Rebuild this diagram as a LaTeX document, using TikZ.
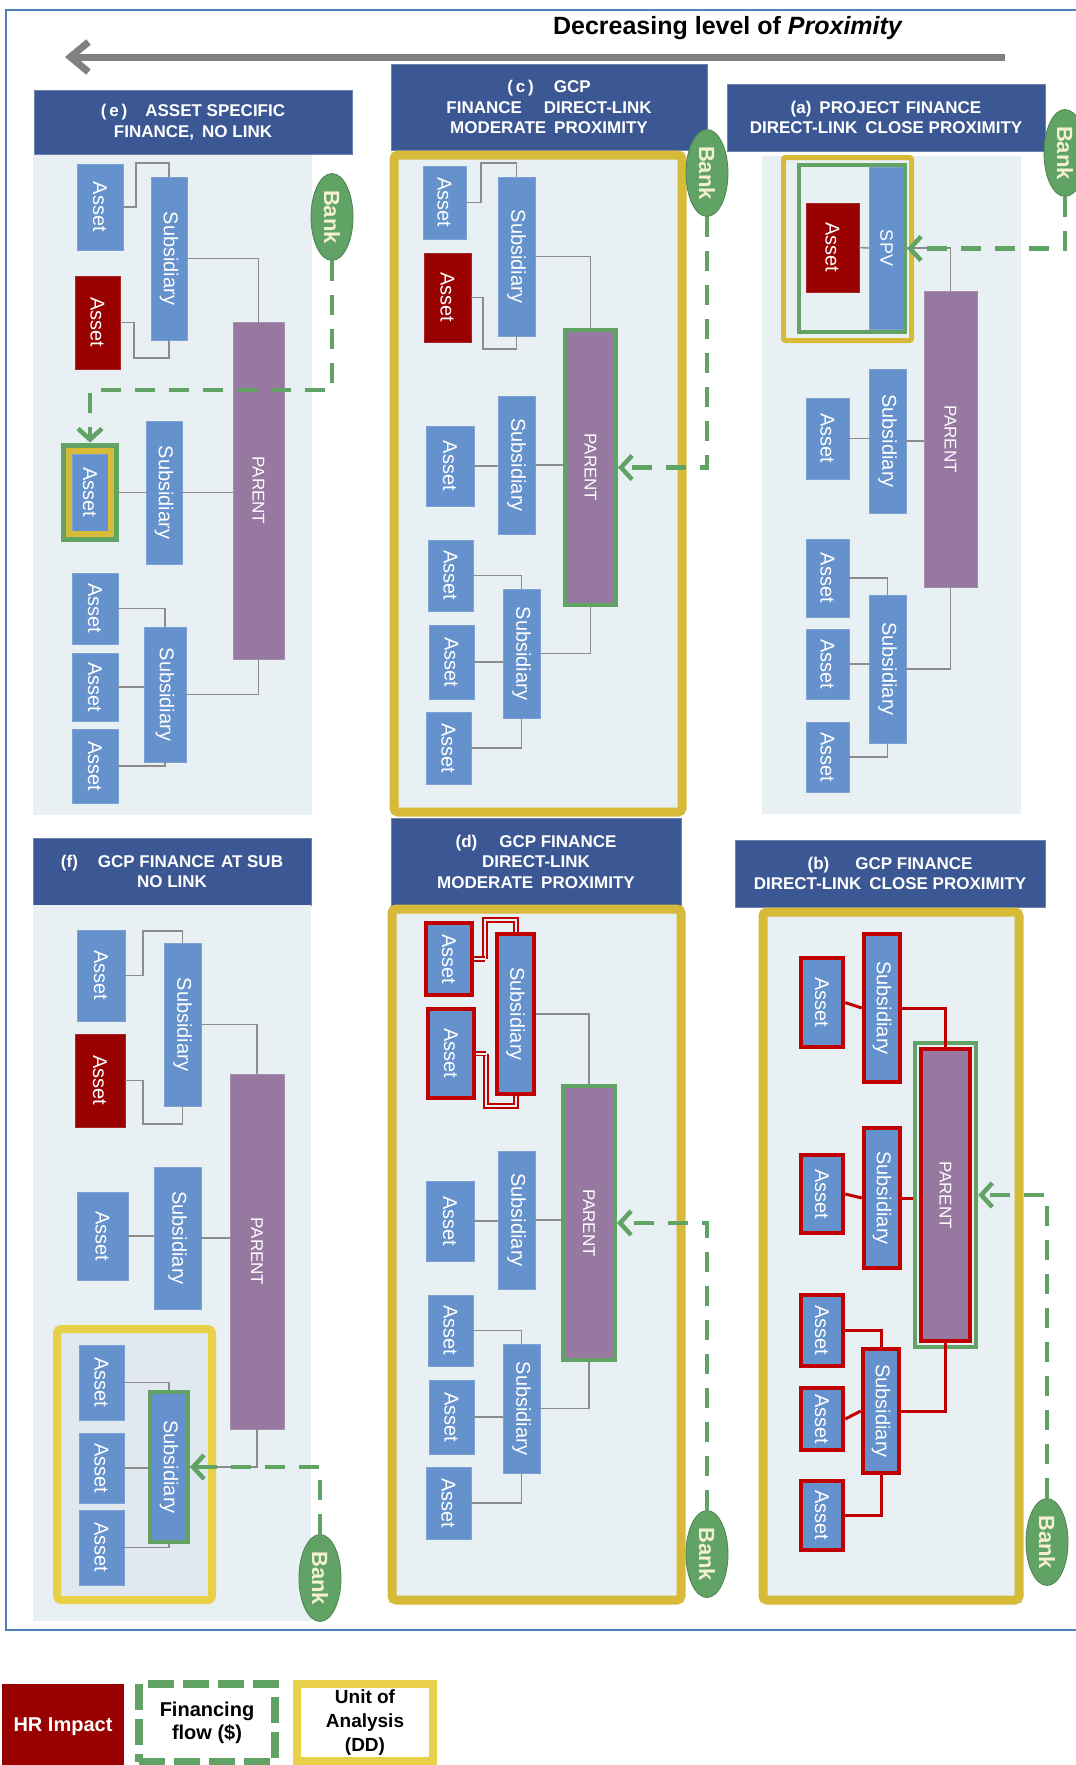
\documentclass[tikz,border=0pt]{standalone}
\usepackage{fontspec}
\setmainfont{Liberation Sans}
\usepackage{graphicx}
\usetikzlibrary{positioning,shapes.geometric,arrows.meta,fit}

\definecolor{hdrblue}{RGB}{60,88,148}
\definecolor{bglight}{RGB}{233,240,244}
\definecolor{innerbg}{RGB}{226,232,240}
\definecolor{entblue}{RGB}{101,145,204}
\definecolor{hrred}{RGB}{153,0,0}
\definecolor{hrline}{RGB}{192,0,0}
\definecolor{parpurple}{RGB}{150,120,160}
\definecolor{gcpgreen}{RGB}{96,163,100}
\definecolor{unityellow}{RGB}{214,186,56}
\definecolor{unitbright}{RGB}{232,208,72}
\definecolor{linkgray}{RGB}{140,140,140}
\definecolor{framblue}{RGB}{79,129,189}
\definecolor{arrgray}{RGB}{128,128,128}
\definecolor{banktext}{RGB}{245,240,210}

\newcommand{\vt}[1]{\rotatebox{-90}{#1}}
\newcommand{\entfont}{\fontsize{20}{24}\selectfont}
\newcommand{\spvfont}{\fontsize{18}{21}\selectfont}
\newcommand{\hdrfont}{\fontsize{17}{20.5}\selectfont\bfseries}
\newcommand{\bankfont}{\fontsize{22}{26}\selectfont\bfseries}
\newcommand{\parfont}{\fontsize{17}{20}\selectfont}
\newcommand{\legfont}{\fontsize{20}{23}\selectfont\bfseries}
\newcommand{\legfontb}{\fontsize{19}{24}\selectfont\bfseries}
\newcommand{\titlefont}{\fontsize{25}{29}\selectfont\bfseries}

\tikzset{
  sz/.style 2 args={minimum width=#1pt, minimum height=#2pt},
  header/.style={fill=hdrblue, draw=hdrblue!75!white, line width=1pt, text=white, font=\hdrfont, align=center, inner sep=0pt},
  panelbg/.style={fill=bglight},
  ent/.style={rectangle, fill=entblue, draw=entblue!85!white, line width=0.8pt, text=white, font=\entfont, inner sep=0pt},
  hrasset/.style={ent, fill=hrred, draw=hrred!85!white},
  parent/.style={ent, fill=parpurple, draw=parpurple!85!white, font=\parfont},
  hrbox/.style={draw=hrline, line width=4.5pt},
  gcpbox/.style={draw=gcpgreen, line width=4pt},
  bank/.style={ellipse, fill=gcpgreen, draw=gcpgreen!80!black, line width=0.8pt, text=banktext, font=\bankfont, inner sep=0pt, minimum width=42pt, minimum height=87pt},
  link/.style={draw=linkgray, line width=1.6pt},
  hrlink/.style={draw=hrline, line width=3pt},
  hrpipe/.style={draw=hrline, line width=1.8pt, double=bglight, double distance=2pt},
  flow/.style={draw=gcpgreen, line width=4.5pt, dash pattern=on 20pt off 14pt, -{Straight Barb[length=11pt,width=24pt]}},
  unitdd/.style={draw=unityellow, line width=9pt, rounded corners=4pt},
}

\begin{document}
\begin{tikzpicture}[x=1pt, y=-1pt]
\clip (0,0) rectangle (1076,1765);
\fill[white] (0,0) rectangle (1076,1765);

% frame and title
\draw[framblue, line width=1.5pt] (6,10) rectangle (1110,1630);
\node[font=\titlefont] (title) at (728,28) {Decreasing level of \textit{Proximity}};
\coordinate (arrR) at (1005,57);
\coordinate (arrL) at (65,57);
\draw[arrgray, line width=7pt, -{Straight Barb[length=18pt,width=30pt]}] (arrR) -- (arrL);

% Panel (e)
\node[header, sz={318}{64}] (eH) at (193,122) {(\,e\,)\hspace{18pt}ASSET SPECIFIC\\FINANCE,\hspace{8pt}NO LINK};
\fill[panelbg] (33,155) rectangle (312,815);
\node[ent, sz={46}{86}] (eA1) at (100,207) {\vt{Asset}};
\node[ent, sz={36}{163}] (eS1) at (169,258.5) {\vt{Subsidiary}};
\node[hrasset, sz={45}{93}] (eA2) at (97.5,322.5) {\vt{Asset}};
\node[parent, sz={51}{337}] (eP) at (258.5,490.5) {\vt{PARENT}};
\node[ent, sz={36}{77}] (eA3) at (90,492.5) {\vt{Asset}};
\node[ent, sz={36}{143}] (eS2) at (164,492.5) {\vt{Subsidiary}};
\node[ent, sz={46}{71}] (eA4) at (95,608.5) {\vt{Asset}};
\node[ent, sz={46}{68}] (eA5) at (95,687) {\vt{Asset}};
\node[ent, sz={46}{74}] (eA6) at (95,766) {\vt{Asset}};
\node[ent, sz={42}{135}] (eS3) at (165,694.5) {\vt{Subsidiary}};
\node[bank] (eB) at (332,217) {\vt{Bank}};
\draw[link] (eA1.east) -| (136,163) -| (eS1.north);
\draw[link] (eA2.east) -| (134,358) -| (eS1.south);
\draw[link] (eS1.east) -| (eP.north);
\draw[link] (eA3.east) -- (eA3.east -| eS2.west);
\draw[link] (eS2.east) -- (eS2.east -| eP.west);
\draw[link] (eA4.east) -| (eS3.north);
\draw[link] (eA5.east) -- (eA5.east -| eS3.west);
\draw[link] (eA6.east) -| (eS3.south);
\draw[link] (eS3.east) -| (eP.south);
\node[draw=unityellow, line width=6pt, fit=(eA3), inner sep=3pt] (eAy) {};
\node[gcpbox, line width=5pt, fit=(eA3), inner sep=8.5pt] (eAg) {};
\draw[flow] (eB.south) -- ++(0,129) -| (eAg.north);

% Panel (c)
\node[header, sz={316}{86}] (cH) at (549,107) {(\,c\,)\hspace{20pt}GCP\\FINANCE\hspace{22pt}DIRECT-LINK\\MODERATE\hspace{8pt}PROXIMITY};
\draw[unitdd, fill=bglight] (394,155) rectangle (682,812);
\node[ent, sz={43}{73}] (cA1) at (444.5,202.5) {\vt{Asset}};
\node[ent, sz={37}{159}] (cS1) at (516.5,256.5) {\vt{Subsidiary}};
\node[hrasset, sz={47}{89}] (cA2) at (447.5,297.5) {\vt{Asset}};
\node[parent, gcpbox, sz={51}{275}] (cP) at (590.5,467.5) {\vt{PARENT}};
\node[ent, sz={37}{138}] (cS2) at (516.5,465) {\vt{Subsidiary}};
\node[ent, sz={48}{80}] (cA3) at (450,466) {\vt{Asset}};
\node[ent, sz={45}{71}] (cA4) at (450.5,575.5) {\vt{Asset}};
\node[ent, sz={45}{74}] (cA5) at (451.5,662) {\vt{Asset}};
\node[ent, sz={45}{72}] (cA6) at (448.5,748) {\vt{Asset}};
\node[ent, sz={37}{129}] (cS3) at (521.5,653.5) {\vt{Subsidiary}};
\node[bank] (cB) at (707,173) {\vt{Bank}};
\draw[link] (cA1.east) -| (481,163) -| (cS1.north);
\draw[link] (cA2.east) -| (483,349) -| (cS1.south);
\draw[link] (cS1.east) -| (cP.north);
\draw[link] (cA3.east) -- (cA3.east -| cS2.west);
\draw[link] (cS2.east) -- (cS2.east -| cP.west);
\draw[link] (cA4.east) -| (cS3.north);
\draw[link] (cA5.east) -- (cA5.east -| cS3.west);
\draw[link] (cA6.east) -| (cS3.south);
\draw[link] (cS3.east) -| (cP.south);
\draw[flow] (cB.south) |- (cP.east);

% Panel (a)
\node[header, sz={318}{67}] (aH) at (886,117.5) {(a)\hspace{8pt}PROJECT\hspace{6pt}FINANCE\\DIRECT-LINK\hspace{8pt}CLOSE PROXIMITY};
\fill[panelbg] (762,156) rectangle (1021,814);
\draw[unitdd, line width=5pt, rounded corners=2pt] (783.5,157.5) rectangle (911.5,340.5);
\node[ent, font=\spvfont, sz={35}{162}] (aS) at (886.5,248) {\vt{SPV}};
\node[hrasset, sz={53}{89}] (aA1) at (832.5,247.5) {\vt{Asset}};
\node[gcpbox, sz={106}{167}] (aG) at (852,248.5) {};
\node[parent, sz={53}{296}] (aP) at (950.5,439) {\vt{PARENT}};
\node[ent, sz={37}{144}] (aS2) at (887.5,441) {\vt{Subsidiary}};
\node[ent, sz={43}{81}] (aA2) at (827.5,438.5) {\vt{Asset}};
\node[ent, sz={43}{78}] (aA3) at (827.5,578) {\vt{Asset}};
\node[ent, sz={43}{70}] (aA4) at (827.5,664) {\vt{Asset}};
\node[ent, sz={43}{70}] (aA5) at (827.5,757) {\vt{Asset}};
\node[ent, sz={37}{148}] (aS3) at (887.5,669) {\vt{Subsidiary}};
\node[bank] (aB) at (1065,153) {\vt{Bank}};
\draw[link] (aA1.east) -- (aS.west);
\draw[link] (aS.east) -| (aP.north);
\draw[link] (aA2.east) -- (aA2.east -| aS2.west);
\draw[link] (aS2.east) -- (aS2.east -| aP.west);
\draw[link] (aA3.east) -| (aS3.north);
\draw[link] (aA4.east) -- (aA4.east -| aS3.west);
\draw[link] (aA5.east) -| (aS3.south);
\draw[link] (aS3.east) -| (aP.south);
\draw[flow] (aB.south) |- (aG.east);

% Panel (f)
\node[header, sz={278}{67}] (fH) at (172,871.5) {(f)\hspace{20pt}GCP FINANCE\hspace{6pt}AT SUB\\NO LINK};
\fill[panelbg] (33,905) rectangle (311,1621);
\draw[unitdd, draw=unitbright, line width=8pt, fill=innerbg] (57,1329) rectangle (212,1600);
\node[ent, sz={48}{91}] (fA1) at (101,975.5) {\vt{Asset}};
\node[ent, sz={37}{163}] (fS1) at (182.5,1024.5) {\vt{Subsidiary}};
\node[hrasset, sz={50}{93}] (fA2) at (100,1080.5) {\vt{Asset}};
\node[parent, sz={54}{355}] (fP) at (257,1251.5) {\vt{PARENT}};
\node[ent, sz={47}{142}] (fS2) at (177.5,1238) {\vt{Subsidiary}};
\node[ent, sz={51}{88}] (fA3) at (102.5,1236) {\vt{Asset}};
\node[ent, sz={45}{75}] (fA4) at (101.5,1382.5) {\vt{Asset}};
\node[ent, sz={45}{70}] (fA5) at (101.5,1468) {\vt{Asset}};
\node[ent, sz={45}{75}] (fA6) at (101.5,1547.5) {\vt{Asset}};
\node[ent, gcpbox, sz={38}{150}] (fS3) at (169,1467) {\vt{Subsidiary}};
\node[bank] (fB) at (320,1578) {\vt{Bank}};
\draw[link] (fA1.east) -| (143,931) -| (fS1.north);
\draw[link] (fA2.east) -| (143,1124) -| (fS1.south);
\draw[link] (fS1.east) -| (fP.north);
\draw[link] (fA3.east) -- (fA3.east -| fS2.west);
\draw[link] (fS2.east) -- (fS2.east -| fP.west);
\draw[link] (fA4.east) -| (fS3.north);
\draw[link] (fA5.east) -- (fA5.east -| fS3.west);
\draw[link] (fA6.east) -| (fS3.south);
\draw[link] (fS3.east) -| (fP.south);
\draw[flow] (fB.north) |- (fS3.east);

% Panel (d)
\node[header, sz={290}{87}] (dH) at (536,861.5) {(d)\hspace{22pt}GCP FINANCE\\DIRECT-LINK\\MODERATE\hspace{8pt}PROXIMITY};
\draw[unitdd, fill=bglight] (392,909) rectangle (681,1600);
\draw[hrpipe] (485,959) |- (516,920) -- (516,934);
\draw[hrpipe] (486,1053.5) |- (516,1106) -- (516,1094);
\node[ent, hrbox, sz={46}{72}] (dA1) at (449,959) {\vt{Asset}};
\node[ent, hrbox, sz={46}{89}] (dA2) at (451,1053.5) {\vt{Asset}};
\node[ent, hrbox, sz={37}{160}] (dS1) at (515.5,1014) {\vt{Subsidiary}};
\draw[hrpipe] (dA1.east) -- (485,959);
\draw[hrpipe] (dA2.east) -- (486,1053.5);
\node[parent, gcpbox, sz={52}{274}] (dP) at (589,1223) {\vt{PARENT}};
\node[ent, sz={37}{138}] (dS2) at (516.5,1220) {\vt{Subsidiary}};
\node[ent, sz={48}{80}] (dA3) at (450,1221) {\vt{Asset}};
\node[ent, sz={45}{71}] (dA4) at (450.5,1330.5) {\vt{Asset}};
\node[ent, sz={45}{74}] (dA5) at (451.5,1417) {\vt{Asset}};
\node[ent, sz={45}{72}] (dA6) at (448.5,1503) {\vt{Asset}};
\node[ent, sz={37}{129}] (dS3) at (521.5,1408.5) {\vt{Subsidiary}};
\node[bank] (dB) at (707,1554) {\vt{Bank}};
\draw[link] (dS1.east) -| (dP.north);
\draw[link] (dA3.east) -- (dA3.east -| dS2.west);
\draw[link] (dS2.east) -- (dS2.east -| dP.west);
\draw[link] (dA4.east) -| (dS3.north);
\draw[link] (dA5.east) -- (dA5.east -| dS3.west);
\draw[link] (dA6.east) -| (dS3.south);
\draw[link] (dS3.east) -| (dP.south);
\draw[flow] (dB.north) |- (dP.east);

% Panel (b)
\node[header, sz={310}{67}] (bH) at (890,873.5) {(b)\hspace{26pt}GCP FINANCE\\DIRECT-LINK\hspace{8pt}CLOSE PROXIMITY};
\draw[unitdd, fill=bglight] (763,912) rectangle (1019,1600);
\node[ent, hrbox, sz={42}{89}] (bA1) at (822,1002.5) {\vt{Asset}};
\node[ent, hrbox, sz={36}{148}] (bS1) at (882,1008) {\vt{Subsidiary}};
\node[parent, hrbox, sz={49}{292}] (bP) at (945.5,1195) {\vt{PARENT}};
\node[gcpbox, fit=(bP), inner sep=4pt] (bPg) {};
\node[ent, hrbox, sz={36}{140}] (bS2) at (882,1198) {\vt{Subsidiary}};
\node[ent, hrbox, sz={42}{78}] (bA2) at (822,1194) {\vt{Asset}};
\node[ent, hrbox, sz={42}{71}] (bA3) at (822,1330.5) {\vt{Asset}};
\node[ent, hrbox, sz={42}{62}] (bA4) at (822,1419) {\vt{Asset}};
\node[ent, hrbox, sz={42}{69}] (bA5) at (822,1515.5) {\vt{Asset}};
\node[ent, hrbox, sz={36}{124}] (bS3) at (881,1411) {\vt{Subsidiary}};
\node[bank] (bB) at (1047,1542) {\vt{Bank}};
\draw[hrlink] (bA1.east) -- (bS1.west);
\draw[hrlink] (bS1.east) -| (bP.north);
\draw[hrlink] (bA2.east) -- (bS2.west);
\draw[hrlink] (bS2.east) -- (bS2.east -| bPg.west);
\draw[hrlink] (bA3.east) -| (bS3.north);
\draw[hrlink] (bA4.east) -- (bS3.west);
\draw[hrlink] (bA5.east) -| (bS3.south);
\draw[hrlink] (bS3.east) -| (bP.south);
\draw[flow] (bB.north) |- (bPg.east);

% legend
\node[fill=hrred, text=white, font=\legfont, sz={122}{86}, inner sep=0pt] (lgHR) at (63,1727) {HR Impact};
\node[draw=gcpgreen, line width=8pt, dash pattern=on 26pt off 9pt, sz={136}{78}, font=\legfont, align=center, inner sep=0pt] (lgFlow) at (207,1723) {Financing\\flow (\$)};
\node[draw=unitbright, line width=8pt, sz={136}{77}, font=\legfontb, align=center, inner sep=0pt] (lgUnit) at (365,1722.5) {Unit of\\Analysis\\(DD)};
\end{tikzpicture}
\end{document}
